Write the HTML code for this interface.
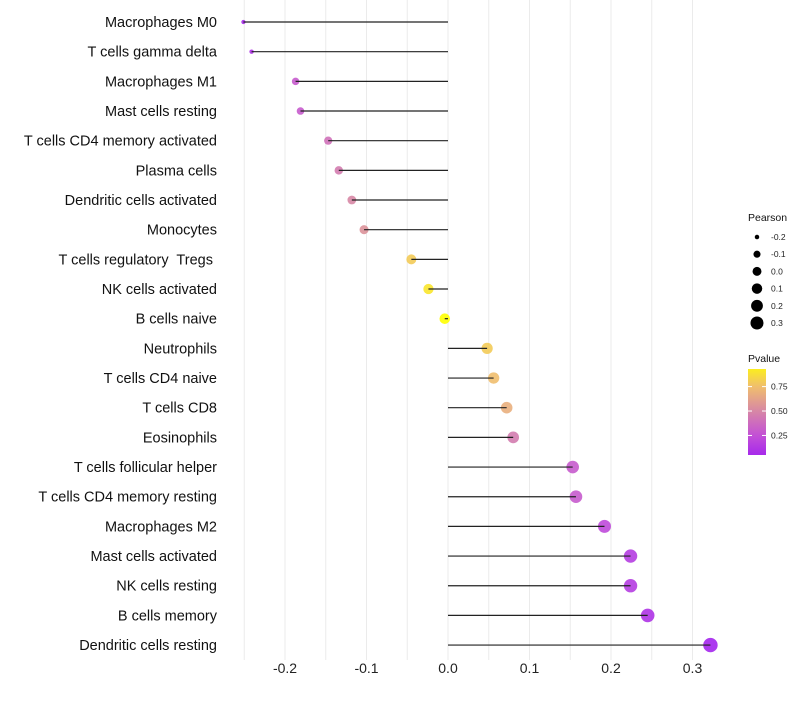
<!DOCTYPE html>
<html><head><meta charset="utf-8"><style>
body{margin:0;background:#fff;font-family:"Liberation Sans",sans-serif}
svg text{font-family:"Liberation Sans",sans-serif;white-space:pre}
</style></head><body>
<svg id="chart" width="800" height="700"></svg>
<script>
const categories=["Macrophages M0","T cells gamma delta","Macrophages M1","Mast cells resting","T cells CD4 memory activated","Plasma cells","Dendritic cells activated","Monocytes","T cells regulatory  Tregs ","NK cells activated","B cells naive","Neutrophils","T cells CD4 naive","T cells CD8","Eosinophils","T cells follicular helper","T cells CD4 memory resting","Macrophages M2","Mast cells activated","NK cells resting","B cells memory","Dendritic cells resting"];
const pearson=[-0.251,-0.241,-0.187,-0.181,-0.147,-0.134,-0.118,-0.103,-0.045,-0.024,-0.004,0.048,0.056,0.072,0.080,0.153,0.157,0.192,0.224,0.224,0.245,0.322];
const pvalues=[0.05,0.1,0.3,0.3,0.4,0.45,0.5,0.55,0.8,0.9,1.0,0.8,0.75,0.68,0.45,0.3,0.3,0.22,0.15,0.15,0.1,0.03];
const xTicks=[-0.2,-0.1,0.0,0.1,0.2,0.3];
const xTickLabels=["-0.2","-0.1","0.0","0.1","0.2","0.3"];
const sizeLegend=[-0.2,-0.1,0.0,0.1,0.2,0.3];
const sizeLegendLabels=["-0.2","-0.1","0.0","0.1","0.2","0.3"];
const pTicks=[0.25,0.5,0.75];
const pTickLabels=["0.25","0.50","0.75"];

const NS="http://www.w3.org/2000/svg";
const svg=document.getElementById('chart');
const x=v=>448+v*815;
const y=i=>22+i*29.67;
const r=v=>v<-0.24?Math.sqrt(Math.max(2,28+75*v))*0.7:Math.sqrt(Math.max(2,28+75*v));
const rl=v=>Math.sqrt(Math.max(2,20+75*v));
const stops=[[0,[160,32,240]],[0.25,[195,80,215]],[0.5,[215,135,165]],[0.75,[240,190,110]],[1,[255,255,0]]];
function col(p){for(let i=1;i<stops.length;i++){if(p<=stops[i][0]){const [a,ca]=stops[i-1],[b,cb]=stops[i];const t=(p-a)/(b-a);return 'rgb('+ca.map((c,k)=>Math.round(c+(cb[k]-c)*t)).join(',')+')';}}return 'rgb(255,255,0)';}
function mk(tag,attrs,parent){const e=document.createElementNS(NS,tag);for(const k in attrs)e.setAttribute(k,attrs[k]);(parent||svg).appendChild(e);return e;}

for(let v=-0.25;v<=0.326;v+=0.05){
  const g=mk('line',{x1:x(v),x2:x(v),y1:0,y2:660,stroke:'#ebebeb','stroke-width':1});
  
  
}
xTicks.forEach((v,i)=>{
  const t=mk('text',{x:x(v),y:673,'text-anchor':'middle','font-size':14,fill:'#222'});
  t.textContent=xTickLabels[i];
  
  
});
categories.forEach((c,i)=>{
  const t=mk('text',{x:217,y:y(i)+5,'text-anchor':'end','font-size':14.5,fill:'#111'});
  t.textContent=c;
  
  
  const p=mk('circle',{cx:x(pearson[i]),cy:y(i),r:r(pearson[i]),fill:col(pvalues[i]),'fill-opacity':0.9});
  
  
  const l=mk('line',{x1:x(0),x2:x(pearson[i]),y1:y(i),y2:y(i),stroke:'#222','stroke-width':1.2});
  
  
});
const lt=mk('text',{x:748,y:221,'font-size':10.5,fill:'#111'});lt.textContent='Pearson';


sizeLegend.forEach((v,i)=>{
  const cy=237+i*17.2;
  const c=mk('circle',{cx:757,cy:cy,r:rl(v),fill:'#000'});
  
  
  const t=mk('text',{x:771,y:cy+3,'font-size':8.5,fill:'#222'});t.textContent=sizeLegendLabels[i];
  
  
});
const pt=mk('text',{x:748,y:362,'font-size':10.5,fill:'#111'});pt.textContent='Pvalue';


const defs=mk('defs',{});
const lg=mk('linearGradient',{id:'pg',x1:0,y1:1,x2:0,y2:0},defs);
const y0=455,y1=369,pv0=0.05,pv1=0.93;
for(let k=0;k<=10;k++){const p=pv0+(pv1-pv0)*k/10;mk('stop',{offset:k/10,'stop-color':col(p)},lg);}
const bar=mk('rect',{x:748,y:y1,width:18,height:y0-y1,fill:'url(#pg)'});


const py=p=>y0-(p-pv0)/(pv1-pv0)*(y0-y1);
pTicks.forEach((p,i)=>{
  mk('line',{x1:748,x2:752,y1:py(p),y2:py(p),stroke:'#fff','stroke-width':1});
  mk('line',{x1:762,x2:766,y1:py(p),y2:py(p),stroke:'#fff','stroke-width':1});
  const t=mk('text',{x:771,y:py(p)+3,'font-size':8.5,fill:'#222'});t.textContent=pTickLabels[i];
  
  
});
</script>
</body></html>
